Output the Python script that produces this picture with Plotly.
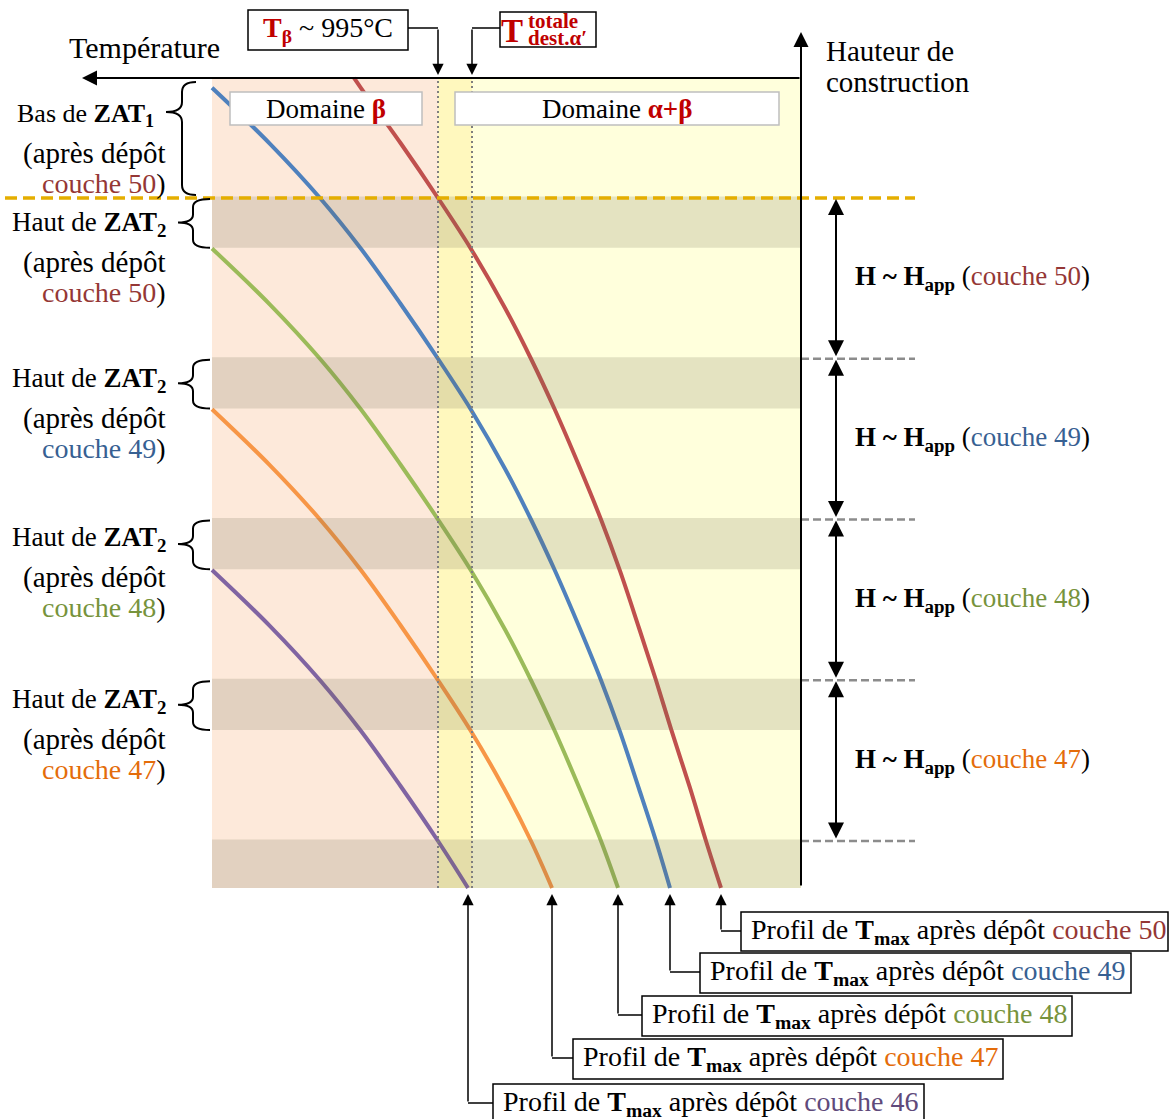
import plotly.graph_objects as go

# ---------------- data ----------------
T_BETA = 995          # °C  (T_beta ~ 995 °C)
T_DEST = 978          # °C  (T totale dest. alpha')
LAYERS = [50, 49, 48, 47, 46]
LAYER_LEVELS = [50, 49, 48, 47, 46]   # height (layer units) of each dashed boundary
ZAT_BAND = 0.31                        # thickness of the "Haut de ZAT2" band (layer units)

# Tmax profiles: temperature (°C) vs building height (layer units)
t50 = [1037, 1033.5, 1013.75, 995, 978.5, 961.5, 948.5, 936.5, 924, 913.5, 904, 894.5, 886, 878.5, 869, 861, 853.5]
z50 = [50.747, 50.684, 50.342, 50.0, 49.683, 49.316, 49.0, 48.681, 48.32, 48.0, 47.68, 47.325, 47.0, 46.697, 46.33, 46.0, 45.708]
t49 = [1108, 1079, 1054, 1033.5, 1013.75, 995, 978.5, 961.5, 948.5, 936.5, 924, 913.5, 904, 894.5, 886, 879]
z49 = [50.686, 50.337, 50.0, 49.684, 49.342, 49.0, 48.683, 48.316, 48.0, 47.681, 47.32, 47.0, 46.68, 46.325, 46.0, 45.708]
t48 = [1108, 1079, 1054, 1033.5, 1013.75, 995, 978.5, 961.5, 948.5, 936.5, 924, 913.5, 905]
z48 = [49.686, 49.337, 49.0, 48.684, 48.342, 48.0, 47.683, 47.316, 47.0, 46.681, 46.32, 46.0, 45.708]
t47 = [1108, 1079, 1054, 1033.5, 1013.75, 995, 978.5, 961.5, 948.5, 938]
z47 = [48.686, 48.337, 48.0, 47.684, 47.342, 47.0, 46.683, 46.316, 46.0, 45.708]
t46 = [1108, 1079, 1054, 1033.5, 1013.75, 995, 980]
z46 = [47.686, 47.337, 47.0, 46.684, 46.342, 46.0, 45.708]

DIAG_T = [1108, 813.5]      # temperature extent of the diagram (left, right)
DIAG_Z = [45.708, 50.747]   # height extent of the diagram (bottom, top)

LINE_COLORS = {50: '#C0504D', 49: '#4F81BD', 48: '#9BBB59', 47: '#F79646', 46: '#8064A2'}
TEXT_COLORS = {50: '#953735', 49: '#376092', 48: '#77933C', 47: '#E46C0A', 46: '#604A7B'}
RED = '#C00000'
FONT = 'Liberation Serif'

W, H = 1171, 1119
X_RANGE = [1214, 628.5]
Y_RANGE = [44.2706, 51.2317]

def px_of_T(T):
    return (T - X_RANGE[0]) / (X_RANGE[1] - X_RANGE[0]) * W

def py_of_z(z):
    return (Y_RANGE[1] - z) / (Y_RANGE[1] - Y_RANGE[0]) * H

profiles = {50: (t50, z50), 49: (t49, z49), 48: (t48, z48), 47: (t47, z47), 46: (t46, z46)}

fig = go.Figure()
for k in LAYERS:
    t, z = profiles[k]
    fig.add_trace(go.Scatter(x=t, y=z, mode='lines', line=dict(color=LINE_COLORS[k], width=4, shape='spline', smoothing=1.0),
                             hoverinfo='skip', showlegend=False, xaxis='x', yaxis='y'))
fig.add_trace(go.Scatter(x=[0], y=[0], mode='markers', marker=dict(opacity=0), xaxis='x2', yaxis='y2',
                         hoverinfo='skip', showlegend=False))

shapes = []
annotations = []

def ann(x, y, text, size=27, xanchor='center', xref='x2', yref='y2'):
    annotations.append(dict(x=x, y=y, xref=xref, yref=yref, text=text, showarrow=False,
                            xanchor=xanchor, yanchor='middle',
                            font=dict(family=FONT, size=size, color='black')))

def arrow(x, y, ax, ay, width=2, size=1.5, both=False, xref='x2', yref='y2'):
    annotations.append(dict(x=x, y=y, ax=ax, ay=ay, xref=xref, yref=yref, axref=xref, ayref=yref,
                            text='', showarrow=True, arrowhead=2, arrowsize=size, arrowwidth=width,
                            arrowcolor='black', arrowside='end+start' if both else 'end',
                            startarrowhead=2, startarrowsize=size, standoff=0, startstandoff=0))

def line(x0, y0, x1, y1, color='black', width=1.5, dash='solid', xref='x2', yref='y2', layer='above'):
    shapes.append(dict(type='line', x0=x0, y0=y0, x1=x1, y1=y1, xref=xref, yref=yref,
                       line=dict(color=color, width=width, dash=dash), layer=layer))

def rect(x0, y0, x1, y1, fill='white', color='black', width=1.5, xref='x2', yref='y2', layer='above'):
    shapes.append(dict(type='rect', x0=x0, y0=y0, x1=x1, y1=y1, xref=xref, yref=yref,
                       fillcolor=fill, line=dict(color=color, width=width), layer=layer))

# background domains (data coordinates)
rect(DIAG_T[0], DIAG_Z[0], T_BETA, DIAG_Z[1], fill='#FDE9DA', width=0, xref='x', yref='y', layer='below')
rect(T_BETA, DIAG_Z[0], T_DEST, DIAG_Z[1], fill='#FFF8BE', width=0, xref='x', yref='y', layer='below')
rect(T_DEST, DIAG_Z[0], DIAG_T[1], DIAG_Z[1], fill='#FFFFDC', width=0, xref='x', yref='y', layer='below')

# ZAT2 bands
for zl in LAYER_LEVELS:
    rect(DIAG_T[0], max(zl - ZAT_BAND, DIAG_Z[0]), DIAG_T[1], zl + 0.01, fill='rgba(110,105,80,0.19)', width=0,
         xref='x', yref='y')

# vertical dotted lines (T_beta, T_dest)
for tv in [T_BETA, T_DEST]:
    line(tv, DIAG_Z[0], tv, DIAG_Z[1], color='#7F7F7F', width=2, dash='2px,3px', xref='x', yref='y')

# domain label boxes
rect(230, 92, 422, 125, fill='white', color='#BFBFBF', width=1.5)
rect(455, 92, 779, 125, fill='white', color='#BFBFBF', width=1.5)
ann(326, 109, f"Domaine <span style='color:{RED}'><b>β</b></span>", size=27)
ann(617, 109, f"Domaine <span style='color:{RED}'><b>α+β</b></span>", size=27)

# orange dashed line (bottom of ZAT1, level 50) and grey dashed level lines
line(5, LAYER_LEVELS[0], 915, LAYER_LEVELS[0], color='#E5AE00', width=3.5, dash='12px,6px', yref='y')
for zl in LAYER_LEVELS[1:]:
    line(801, zl, 915, zl, color='#8C8C8C', width=2.5, dash='8px,4px', yref='y')

# axes
arrow(82, 78, 801, 78, width=2, size=1.5)
arrow(801, 32, 801, 887, width=2, size=1.5)
ann(144, 47, "Température", size=30)
ann(824, 51, "Hauteur de", size=29, xanchor='left')
ann(824, 82, "construction", size=29, xanchor='left')

# top callouts
rect(248, 10, 408, 50)
ann(328, 29, f"<span style='color:{RED}'><b>T<sub>β</sub></b></span> ~ {T_BETA}°C", size=28)
line(408, 28, px_of_T(T_BETA), 28)
arrow(px_of_T(T_BETA), 75, px_of_T(T_BETA), 28, width=1.5, size=1.5)
rect(500, 12, 596, 47)
ann(512, 31, f"<span style='color:{RED}'><b>T</b></span>", size=33)
ann(553, 21, f"<span style='color:{RED}'><b>totale</b></span>", size=21)
ann(557, 38, f"<span style='color:{RED}'><b>dest.α′</b></span>", size=21)
line(500, 28, px_of_T(T_DEST), 28)
arrow(px_of_T(T_DEST), 75, px_of_T(T_DEST), 28, width=1.5, size=1.5)

# braces
def brace(xe, xs, xt, y1, ym, y2, r=8):
    path = (f"M{xe},{y1} Q{xs},{y1} {xs},{y1 + r} L{xs},{ym - r} Q{xs},{ym} {xt},{ym} "
            f"Q{xs},{ym} {xs},{ym + r} L{xs},{y2 - r} Q{xs},{y2} {xe},{y2}")
    shapes.append(dict(type='path', path=path, xref='x2', yref='y2', line=dict(color='black', width=2), layer='above'))

brace(196, 182, 166, 82, 112, 195, r=10)

# left labels
ann(156, 115, "Bas de <b>ZAT<sub>1</sub></b>", size=26, xanchor='right')
ann(168, 153, "(après dépôt", size=29, xanchor='right')
ann(168, 183, f"<span style='color:{TEXT_COLORS[50]}'>couche 50</span>)", size=28, xanchor='right')
left_groups = [(50, 224), (49, 380), (48, 539), (47, 701)]
for k, y0 in left_groups:
    ann(168, y0, "Haut de <b>ZAT<sub>2</sub></b>", xanchor='right')
    ann(168, y0 + 38, "(après dépôt", size=29, xanchor='right')
    ann(168, y0 + 68, f"<span style='color:{TEXT_COLORS[k]}'>couche {k}</span>)", size=28, xanchor='right')
for zl in LAYER_LEVELS[:4]:
    y1 = py_of_z(zl) + 1
    y2 = py_of_z(zl - ZAT_BAND)
    brace(210, 193, 178, y1, (y1 + y2) / 2 - 1, y2, r=8)

# right: H ~ Happ double arrows
for i, k in enumerate(LAYERS[:4]):
    ztop, zbot = LAYER_LEVELS[i], LAYER_LEVELS[i + 1]
    annotations.append(dict(x=836, y=ztop, ax=836, ay=zbot, xref='x2', yref='y', axref='x2', ayref='y',
                            text='', showarrow=True, arrowhead=2, arrowsize=1.6, arrowwidth=2,
                            arrowcolor='black', arrowside='end+start', startarrowhead=2, startarrowsize=1.6,
                            standoff=1, startstandoff=1))
    ann(853, (ztop + zbot) / 2,
        f"<b>H ~ H<sub>app</sub></b> (<span style='color:{TEXT_COLORS[k]}'>couche {k}</span>)",
        xanchor='left', yref='y')

# bottom callouts
boxes = {50: (741, 912, 1168, 951, 931), 49: (700, 953, 1131, 993, 972), 48: (642, 996, 1072, 1036, 1015),
         47: (573, 1039, 1003, 1079, 1058), 46: (493, 1084, 924, 1124, 1103)}
for k in LAYERS:
    t, z = profiles[k]
    xc = px_of_T(t[-1])
    bx0, by0, bx1, by1, ye = boxes[k]
    rect(bx0, by0, bx1, by1)
    line(xc, ye, bx0, ye)
    arrow(xc, 894, xc, ye, width=1.5, size=1.5)
    ann(bx0 + 8, ye, f"Profil de <b>T<sub>max</sub></b> après dépôt <span style='color:{TEXT_COLORS[k]}'>couche {k}</span>",
        size=28, xanchor='left')

fig.update_layout(
    width=W, height=H, autosize=False,
    margin=dict(l=0, r=0, t=0, b=0),
    paper_bgcolor='white', plot_bgcolor='rgba(0,0,0,0)',
    xaxis=dict(range=X_RANGE, visible=False, fixedrange=True),
    yaxis=dict(range=Y_RANGE, visible=False, fixedrange=True),
    xaxis2=dict(range=[0, W], overlaying='x', visible=False, fixedrange=True),
    yaxis2=dict(range=[H, 0], overlaying='y', visible=False, fixedrange=True),
    shapes=shapes, annotations=annotations, showlegend=False,
)

fig.write_html("out.html", config={'displayModeBar': False},
               post_script="document.body.style.margin='0px';document.body.style.overflow='hidden';")
